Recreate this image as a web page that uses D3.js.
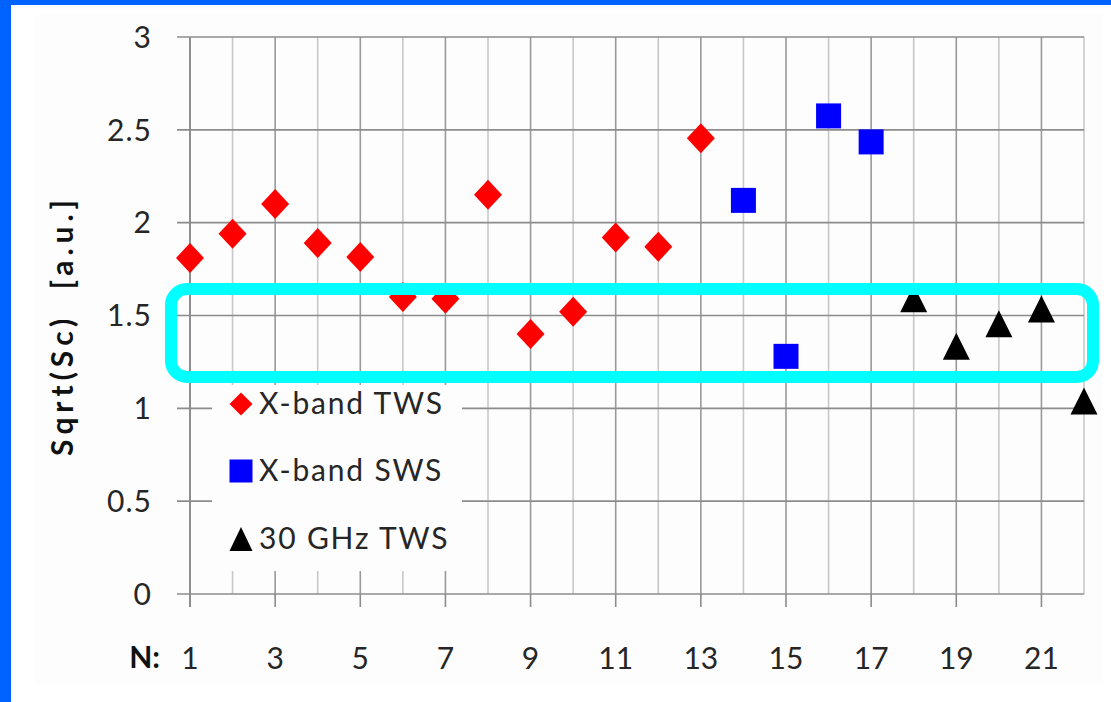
<!DOCTYPE html>
<html>
<head>
<meta charset="utf-8">
<script src="https://cdn.jsdelivr.net/npm/d3@7"></script>
<style>
  html, body { margin: 0; padding: 0; background: #ffffff; }
  svg { display: block; }
</style>
</head>
<body>
<svg id="chart" width="1111" height="702"></svg>
<script>
// Structure index N and sqrt(Sc) values per structure family
const xbandTwsN = [1, 2, 3, 4, 5, 6, 7, 8, 9, 10, 11, 12, 13];
const xbandTwsVal = [1.81, 1.94, 2.10, 1.89, 1.815, 1.60, 1.59, 2.15, 1.40, 1.52, 1.92, 1.87, 2.455];
const xbandSwsN = [14, 15, 16, 17];
const xbandSwsVal = [2.12, 1.28, 2.575, 2.435];
const ghz30TwsN = [18, 19, 20, 21, 22];
const ghz30TwsVal = [1.59, 1.335, 1.455, 1.535, 1.04];

const yTicks = [0, 0.5, 1, 1.5, 2, 2.5, 3];
const yTickLabels = ["0", "0.5", "1", "1.5", "2", "2.5", "3"];
const xLabelTicks = [1, 3, 5, 7, 9, 11, 13, 15, 17, 19, 21];
const xGridTicks = d3.range(1, 23);
const legendLabels = ["X-band TWS", "X-band SWS", "30 GHz TWS"];
const seriesColors = ["#ff0000", "#0000ff", "#000000"];
const yTitle = "Sqrt(Sc)\u00a0\u00a0[a.u.]";
const xTitle = "N:";

const svg = d3.select("#chart");
const font = "Lato, 'Open Sans', sans-serif";
const textColor = "#262626";

// page frame: blue bars on left and top, light panel inside
svg.append("rect").attr("x", 0).attr("y", 0).attr("width", 1111).attr("height", 702).attr("fill", "#ffffff");
svg.append("rect").attr("x", 35).attr("y", 14).attr("width", 1068).attr("height", 670).attr("fill", "#fdfdfd");
svg.append("rect").attr("x", 0).attr("y", 0).attr("width", 11).attr("height", 702).attr("fill", "#0062ff");
svg.append("rect").attr("x", 0).attr("y", 0).attr("width", 1111).attr("height", 5).attr("fill", "#0062ff");

const x = d3.scaleLinear().domain([1, 22]).range([190, 1084]);
const y = d3.scaleLinear().domain([0, 3]).range([594, 37]);

// vertical gridlines: odd positions darker
svg.append("g").selectAll("line").data(xGridTicks).join("line")
  .attr("x1", d => x(d)).attr("x2", d => x(d))
  .attr("y1", y(3)).attr("y2", y(0))
  .attr("stroke", d => d % 2 === 1 ? "#9a9a9a" : "#c8c8c8")
  .attr("stroke-width", 1.6);

// horizontal gridlines with outward tick
svg.append("g").selectAll("line").data(yTicks).join("line")
  .attr("x1", x(1) - 13).attr("x2", x(22))
  .attr("y1", d => y(d)).attr("y2", d => y(d))
  .attr("stroke", "#8c8c8c")
  .attr("stroke-width", 1.6);

// y axis line and major x ticks below the axis
svg.append("line").attr("x1", x(1)).attr("x2", x(1)).attr("y1", y(3)).attr("y2", y(0) + 13)
  .attr("stroke", "#8c8c8c").attr("stroke-width", 1.8);
svg.append("g").selectAll("line").data(xLabelTicks).join("line")
  .attr("x1", d => x(d)).attr("x2", d => x(d))
  .attr("y1", y(0)).attr("y2", y(0) + 13)
  .attr("stroke", "#8c8c8c").attr("stroke-width", 1.6);

// tick labels
svg.append("g").selectAll("text").data(yTicks).join("text")
  .attr("x", 152).attr("y", d => y(d)).attr("dy", "0.36em")
  .attr("text-anchor", "end")
  .attr("font-family", font).attr("font-size", 30).attr("letter-spacing", 1).attr("fill", textColor)
  .text((d, i) => yTickLabels[i]);

svg.append("g").selectAll("text").data(xLabelTicks).join("text")
  .attr("x", d => x(d)).attr("y", 669)
  .attr("text-anchor", "middle")
  .attr("font-family", font).attr("font-size", 30).attr("fill", textColor)
  .text(d => d);

svg.append("text").attr("x", 160).attr("y", 668)
  .attr("text-anchor", "end")
  .attr("font-family", font).attr("font-size", 30).attr("font-weight", "bold").attr("fill", "#111")
  .text(xTitle);

svg.append("text")
  .attr("transform", "translate(73,328) rotate(-90)")
  .attr("text-anchor", "middle")
  .attr("font-family", font).attr("font-size", 30).attr("font-weight", "bold").attr("fill", "#111")
  .attr("textLength", 256).attr("lengthAdjust", "spacing")
  .text(yTitle);

// marker shapes
function diamondPath(w, h) {
  return `M0,${-h / 2}L${w / 2},0L0,${h / 2}L${-w / 2},0Z`;
}
function squarePath(s) {
  return `M${-s / 2},${-s / 2}h${s}v${s}h${-s}Z`;
}
function trianglePath(w, h) {
  return `M0,${-h / 2}L${w / 2},${h / 2}L${-w / 2},${h / 2}Z`;
}

// legend box (hides gridlines behind it)
svg.append("rect").attr("x", 212).attr("y", 385).attr("width", 250).attr("height", 186).attr("fill", "#fdfdfd");

const legendRows = [403, 470, 538];
const legendShapes = [diamondPath(23, 23), squarePath(23), trianglePath(23, 24)];
const lg = svg.append("g");
legendLabels.forEach((lab, i) => {
  lg.append("path").attr("d", legendShapes[i])
    .attr("transform", `translate(241,${legendRows[i] + 1})`)
    .attr("fill", seriesColors[i]);
  lg.append("text").attr("x", 259).attr("y", legendRows[i]).attr("dy", "0.36em")
    .attr("font-family", font).attr("font-size", 30).attr("letter-spacing", 1.8).attr("fill", textColor)
    .text(lab);
});

// data markers
svg.append("g").selectAll("path").data(xbandTwsN).join("path")
  .attr("d", diamondPath(28, 30))
  .attr("transform", (d, i) => `translate(${x(d)},${y(xbandTwsVal[i])})`)
  .attr("fill", seriesColors[0]);

svg.append("g").selectAll("path").data(xbandSwsN).join("path")
  .attr("d", squarePath(25))
  .attr("transform", (d, i) => `translate(${x(d)},${y(xbandSwsVal[i])})`)
  .attr("fill", seriesColors[1]);

svg.append("g").selectAll("path").data(ghz30TwsN).join("path")
  .attr("d", trianglePath(27, 27))
  .attr("transform", (d, i) => `translate(${x(d)},${y(ghz30TwsVal[i])})`)
  .attr("fill", seriesColors[2]);

// highlight band around the 1.25–1.65 range
svg.append("rect")
  .attr("x", 171).attr("y", 289).attr("width", 922).attr("height", 88)
  .attr("rx", 16).attr("ry", 16)
  .attr("fill", "none").attr("stroke", "#00ffff").attr("stroke-width", 12);
</script>
</body>
</html>
